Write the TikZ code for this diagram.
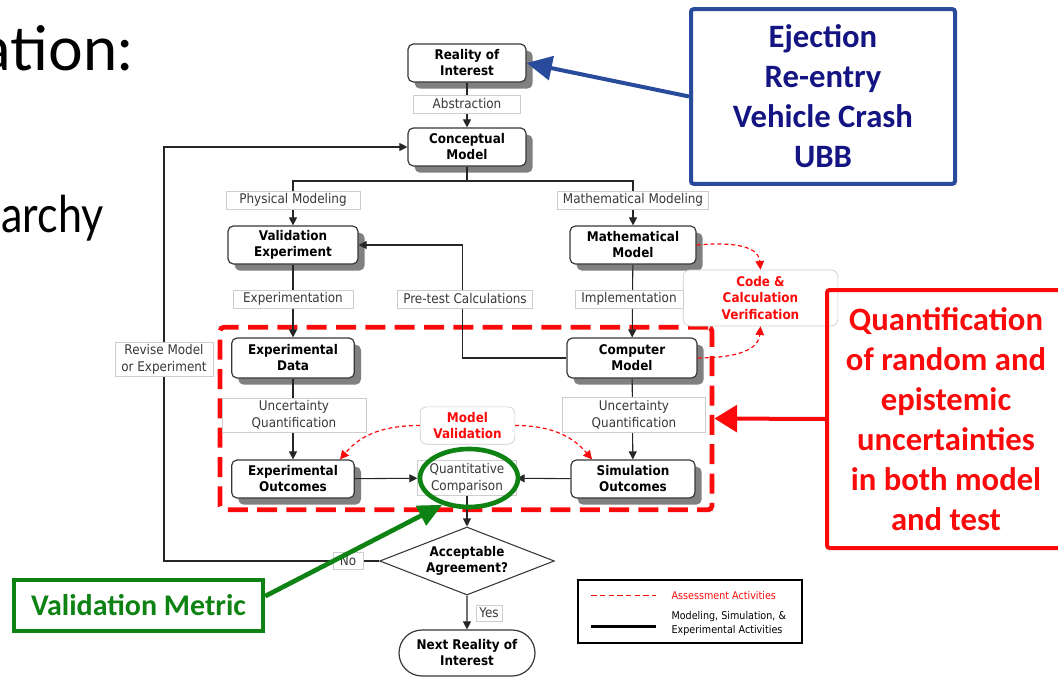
\documentclass[tikz,border=0pt]{standalone}
\usepackage{fontspec}
\setmainfont{DejaVu Sans}
\newfontfamily\fcfont[FakeStretch=0.9]{DejaVu Sans}
\newfontfamily\calfont{Carlito}
\newfontfamily\gillfont{Lato}
\newfontfamily\gillnarrow[FakeStretch=0.85]{Lato}
\usetikzlibrary{arrows.meta,shapes.geometric,shapes.misc,shadows,calc}
\definecolor{shd}{RGB}{128,128,128}
\definecolor{bord}{RGB}{55,55,55}
\definecolor{lblgray}{RGB}{205,205,205}
\definecolor{myred}{RGB}{250,10,10}
\definecolor{mygreen}{RGB}{15,130,20}
\definecolor{myblue}{RGB}{40,75,155}
\definecolor{navytext}{RGB}{20,20,130}
\tikzset{
  box/.style={draw=bord, line width=0.9pt, rounded corners=4pt, fill=white, align=center,
    font=\fcfont\bfseries\fontsize{10}{12}\selectfont, inner sep=1pt, minimum height=28.5pt,
    drop shadow={shadow xshift=5pt, shadow yshift=-5pt, fill=shd, opacity=1}},
  lbl/.style={draw=lblgray, line width=0.5pt, fill=white, align=center,
    font=\fcfont\fontsize{10}{12.5}\selectfont, text=black!78, inner xsep=2pt, inner ysep=1pt, minimum height=13.5pt},
  redlbl/.style={draw=lblgray, line width=0.5pt, fill=white, rounded corners=5pt, align=center,
    font=\fcfont\bfseries\fontsize{10}{12.4}\selectfont, text=myred, inner sep=1pt},
  conn/.style={draw=black!85, line width=0.8pt},
  arr/.style={conn, -{Triangle[length=6pt,width=6pt]}},
  assess/.style={draw=myred, line width=0.9pt, dash pattern=on 3pt off 2.2pt, -{Triangle[length=6.5pt,width=6.5pt]}},
  callout/.style={line width=3pt, align=center, font=\calfont\bfseries\fontsize{24.5}{30}\selectfont, inner sep=0pt}
}
\begin{document}
\begin{tikzpicture}[x=0.75pt,y=-0.75pt]
\useasboundingbox (0,0) rectangle (1058,678);
\clip (0,0) rectangle (1058,678);

% slide text
\node[anchor=base east, inner sep=0pt, font=\gillfont\fontsize{46}{50}\selectfont] (t1) at (133,70) {ation:};
\node[anchor=base east, inner sep=0pt, font=\gillnarrow\fontsize{38}{44}\selectfont] (t2) at (104,232) {archy};

% boxes
\node[box, minimum width=88.5pt] (reality) at (467,63) {Reality of\\Interest};
\node[box, minimum width=88.5pt] (concept) at (467,147) {Conceptual\\Model};
\node[box, minimum width=97.5pt] (valexp) at (293,245) {Validation\\Experiment};
\node[box, minimum width=94.5pt] (mathm) at (633,245) {Mathematical\\Model};
\node[box, minimum width=92pt, minimum height=30pt] (expdata) at (293,358) {Experimental\\Data};
\node[box, minimum width=97.5pt, minimum height=30pt] (compm) at (632,358) {Computer\\Model};
\node[box, minimum width=92pt] (expout) at (293,479) {Experimental\\Outcomes};
\node[box, minimum width=93pt] (simout) at (633,479) {Simulation\\Outcomes};
\node[diamond, draw=bord, line width=0.8pt, aspect=2.6, minimum width=131pt, minimum height=51pt, inner sep=0pt,
  align=center, font=\fcfont\bfseries\fontsize{10}{12}\selectfont, fill=white] (accept) at (467,561) {Acceptable\\Agreement?};
\node[rounded rectangle, draw=bord, line width=0.9pt, minimum width=104pt, minimum height=34.5pt, inner sep=1pt,
  align=center, font=\fcfont\bfseries\fontsize{10}{12}\selectfont, fill=white] (next) at (467,653) {Next Reality of\\Interest};

% big dashed region
\node[draw=myred, line width=3.6pt, dash pattern=on 15pt off 7pt, rounded corners=3pt,
  minimum width=369pt, minimum height=137pt, inner sep=0pt] (qbox) at (466,418.5) {};

% connectors
\draw[arr] (reality) -- (concept);
\coordinate (split) at (467,181);
\draw[conn] (concept.south) -- (split);
\draw[arr] (split) -| (valexp.north);
\draw[arr] (split) -| (mathm.north);
\draw[arr] (valexp) -- (expdata);
\draw[arr] (mathm) -- (compm);
\draw[arr] (compm.west) -- ++(-104,0) |- (valexp.east);
\draw[arr] (expdata) -- (expout);
\draw[arr] (compm) -- (simout);
\coordinate (rv) at (164,561);
\draw[arr] (accept.west) -- (rv) |- (concept.west);
\draw[arr] (accept) -- (next);

% code & calc verification
\node[redlbl, minimum width=116pt, minimum height=42pt] (code) at (760.5,298) {Code \&\\Calculation\\Verification};
\draw[assess] (mathm.east) to[out=5,in=95] (code.north);
\draw[assess] (compm.east) to[out=0,in=-95] (code.south);

% model validation
\node[redlbl, minimum width=71pt, minimum height=28pt] (modval) at (467.5,425.5) {Model\\Validation};
\draw[assess] (modval.west) to[out=180,in=50] ($(expout.north)+(47,0)$);
\draw[assess] (modval.east) to[out=0,in=130] ($(simout.north)+(-41,0)$);

% comparison
\node[lbl, minimum width=74pt, minimum height=26pt] (quant) at (467,478) {Quantitative\\Comparison};
\draw[arr] (expout) -- (quant);
\draw[arr] (simout) -- (quant);
\draw[arr] (quant) -- (accept);
\node[ellipse, draw=mygreen, line width=3.5pt, minimum width=73.5pt, minimum height=43.5pt, inner sep=0pt] (ell) at (469,478) {};

% labels on connectors
\node[lbl, minimum width=80pt] (l1) at (467,104) {Abstraction};
\node[lbl, minimum width=100.5pt] (l2) at (293,200) {Physical Modeling};
\node[lbl, minimum width=113pt] (l3) at (633,200) {Mathematical Modeling};
\node[lbl, minimum width=90pt] (l4) at (293,299) {Experimentation};
\node[lbl, minimum width=101pt] (l5) at (465,299) {Pre-test Calculations};
\node[lbl, minimum width=81pt] (l6) at (629,299) {Implementation};
\node[lbl, minimum width=108pt, minimum height=25.5pt] (l7) at (294,415) {Uncertainty\\Quantification};
\node[lbl, minimum width=107pt, minimum height=26pt] (l8) at (634,415) {Uncertainty\\Quantification};
\node[lbl, minimum width=73.5pt, minimum height=25.5pt] (l9) at (164,359) {Revise Model\\or Experiment};
\node[lbl, minimum width=22.5pt, minimum height=13pt] (lno) at (348,561) {No};
\node[lbl, minimum width=19.5pt, minimum height=12pt] (lyes) at (489,613) {Yes};

% legend
\node[draw=black, line width=1.1pt, minimum width=168pt, minimum height=47pt, inner sep=0pt] (legend) at (690,611.5) {};
\coordinate (lg1) at ($(legend.north west)+(14,16)$);
\coordinate (lg2) at ($(legend.north west)+(14,47)$);
\draw[draw=myred, line width=1.2pt, dash pattern=on 4pt off 2.5pt] (lg1) -- ++(65,0);
\draw[draw=black, line width=1.8pt] (lg2) -- ++(65,0);
\node[anchor=west, inner sep=0pt, text=myred, font=\fcfont\fontsize{8}{10.5}\selectfont] (lgt1) at ($(lg1)+(80,0)$) {Assessment Activities};
\node[anchor=west, inner sep=0pt, align=left, font=\fcfont\fontsize{8}{10.5}\selectfont] (lgt2) at ($(lg2)+(80,-3)$) {Modeling, Simulation, \&\\Experimental Activities};

% callouts
\node[callout, draw=myblue, text=navytext, rounded corners=2pt, minimum width=198pt, minimum height=131pt] (blue) at (823,96.5) {Ejection\\Re-entry\\Vehicle Crash\\UBB};
\draw[draw=myblue, line width=3pt, -{Triangle[length=19pt,width=18pt]}] (blue.west) -- (reality.east);

\node[callout, draw=myred, text=myred, rounded corners=2pt, minimum width=178.5pt, minimum height=193.5pt] (redbox) at (946,419) {Quantification\\of random and\\epistemic\\uncertainties\\in both model\\and test};
\draw[draw=myred, line width=3pt, -{Triangle[length=17pt,width=20pt]}] (redbox.west) -- (qbox.east);

\node[callout, draw=mygreen, text=mygreen, fill=white, minimum width=187pt, minimum height=38pt, font=\calfont\bfseries\fontsize{22.5}{27}\selectfont] (vm) at (138.5,605.5) {Validation Metric};
\draw[draw=mygreen, line width=3.5pt, -{Triangle[length=18pt,width=16pt]}] ($(vm.north east)+(0,18)$) -- (ell.225);
\end{tikzpicture}
\end{document}
